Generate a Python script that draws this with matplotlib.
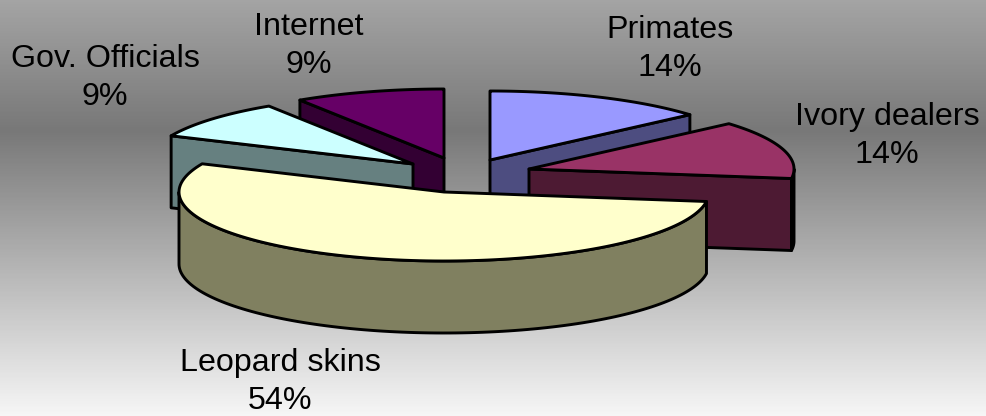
import numpy as np
import matplotlib
matplotlib.use("Agg")
import matplotlib.pyplot as plt
from matplotlib.patches import Polygon
from matplotlib.colors import LinearSegmentedColormap

# Data
categories = ["Primates", "Ivory dealers", "Leopard skins", "Gov. Officials", "Internet"]
shares = [13.6, 13.6, 54.5, 9.15, 9.15]
percent_labels = [14, 14, 54, 9, 9]

# Style / layout (pixels)
top_colors = ["#9999FF", "#993366", "#FFFFCC", "#CCFFFF", "#660066"]
side_colors = ["#4D4D80", "#4D1A33", "#808060", "#668080", "#330033"]
apex_x = [490, 529, 444, 413, 444]
apex_y = [160, 169, 192, 164, 158]
label_x = [670, 887, 280, 105, 309]
label_y = [49, 136, 382, 78, 46]
draw_order = [4, 0, 3, 1, 2]
RX, RY, H = 265, 69, 72
W, HT = 987, 416

plt.rcParams["font.family"] = ["Liberation Sans", "DejaVu Sans"]
fig = plt.figure(figsize=(W / 100, HT / 100), dpi=100)
ax = fig.add_axes([0, 0, 1, 1])
ax.set_xlim(0, W)
ax.set_ylim(HT, 0)
ax.axis("off")

# Background gradient
bg = LinearSegmentedColormap.from_list(
    "bg", [(0, "#A4A4A4"), (130 / 416, "#787878"), (1, "#F6F6F6")])
ax.imshow(np.linspace(0, 1, 416)[:, None], cmap=bg, vmin=0, vmax=1, aspect="auto",
          extent=[0, W, HT, 0], zorder=0)

# Slice angles, clockwise from 12 o'clock
total = sum(shares)
edges = np.deg2rad(np.cumsum([0] + shares) / total * 360)

LW = 2.1
z = 1


def arc(cx, cy, a0, a1, n=120):
    t = np.linspace(a0, a1, n)
    return np.column_stack([cx + RX * np.sin(t), cy - RY * np.cos(t)])


def poly(pts, color):
    global z
    ax.add_patch(Polygon(pts, closed=True, facecolor=color, edgecolor="black",
                         linewidth=LW, joinstyle="round", zorder=z))
    z += 1


for i in draw_order:
    a0, a1 = edges[i], edges[i + 1]
    cx, cy = apex_x[i], apex_y[i]
    apex = np.array([cx, cy])
    down = np.array([0, H])
    # Only the cut face turned toward the viewer is visible
    if a1 <= np.pi:
        p = arc(cx, cy, a1, a1, 1)[0]
        poly([apex, p, p + down, apex + down], side_colors[i])
    if a0 >= np.pi:
        p = arc(cx, cy, a0, a0, 1)[0]
        poly([apex, p, p + down, apex + down], side_colors[i])
    # Outer rim: the part facing the viewer (between 90 and 270 degrees)
    lo, hi = max(a0, np.pi / 2), min(a1, 3 * np.pi / 2)
    if lo < hi:
        rim = arc(cx, cy, lo, hi)
        poly(np.vstack([rim, rim[::-1] + down]), side_colors[i])
    # Top surface
    poly(np.vstack([apex, arc(cx, cy, a0, a1)]), top_colors[i])

for name, pct, x, y in zip(categories, percent_labels, label_x, label_y):
    ax.text(x, y, f"{name}\n{pct}%", ha="center", va="center", fontsize=23.2,
            color="black", linespacing=1.37, zorder=50)

fig.savefig("out.png", dpi=100)
